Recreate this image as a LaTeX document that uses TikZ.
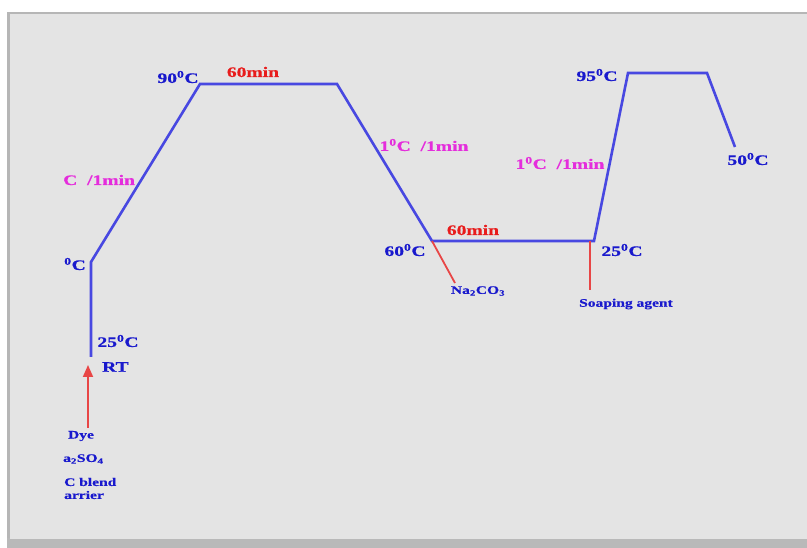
\documentclass[tikz,border=0pt]{standalone}
\usepackage{fontspec}
\newfontfamily\lblfont[FakeStretch=1.35, BoldFeatures={FakeBold=0.6}]{Liberation Serif}
\usetikzlibrary{arrows.meta}
\definecolor{panel}{RGB}{228,228,228}
\definecolor{paneledge}{RGB}{150,150,150}
\definecolor{curve}{RGB}{72,72,225}
\definecolor{tblue}{RGB}{25,25,205}
\definecolor{tmag}{RGB}{228,45,220}
\definecolor{tred}{RGB}{232,28,28}
\definecolor{feed}{RGB}{232,70,70}
\tikzset{
  profile/.style={draw=curve, line width=2.6pt, line join=miter},
  feedline/.style={draw=feed, line width=1.8pt},
  lbl/.style={inner sep=0pt, font=\lblfont\bfseries\fontsize{14.5}{16}\selectfont},
  temp/.style={lbl, text=tblue},
  rate/.style={lbl, text=tmag},
  hold/.style={lbl, text=tred},
  chem/.style={inner sep=0pt, text=tblue, font=\lblfont\bfseries\fontsize{11.5}{13}\selectfont},
}
\newcommand{\dg}{\textsuperscript{0}}
\begin{document}
\begin{tikzpicture}[x=1pt, y=-1pt]
  \useasboundingbox (0,0) rectangle (807,548);
  % panel with its frame and shadow
  \fill[white] (0,0) rectangle (807,548);
  \fill[paneledge!70] (7,12) rectangle (807,548);
  \fill[gray!55] (7,538) rectangle (807,548);
  \fill[panel] (10,14) rectangle (807,539);

  % corner points of the temperature profile
  \coordinate (rt)   at (91,357);
  \coordinate (p1)   at (91,262);
  \coordinate (p2)   at (200,84);
  \coordinate (p3)   at (337,84);
  \coordinate (p4)   at (432,241);
  \coordinate (p5)   at (594,241);
  \coordinate (p6)   at (628,73);
  \coordinate (p7)   at (707,73);
  \coordinate (p8)   at (735,147);

  \draw[profile] (rt) -- (p1) -- (p2) -- (p3) -- (p4) -- (p5) -- (p6) -- (p7) -- (p8);

  % additions
  \coordinate (dyebase) at (88,428);
  \coordinate (dyetip)  at (88,365);
  \draw[feedline, -{Triangle[length=12pt, width=10pt]}] (dyebase) -- (dyetip);
  \coordinate (sodaend) at (455,283);
  \draw[feedline] (p4) -- (sodaend);
  \coordinate (soaptop) at (590,241);
  \coordinate (soapend) at (590,290);
  \draw[feedline] (soaptop) -- (soapend);

  % temperatures
  \node[temp] (t90) at (178,77) {90\dg C};
  \node[temp] (t0)  at (75,264) {\dg C};
  \node[temp] (t25a) at (118,341) {25\dg C};
  \node[temp, anchor=west] (trt) at (102,367) {RT};
  \node[temp] (t60) at (405,250) {60\dg C};
  \node[temp] (t95) at (597,75) {95\dg C};
  \node[temp] (t25b) at (622,250) {25\dg C};
  \node[temp] (t50) at (748,159) {50\dg C};

  % rates and holding times
  \node[rate, anchor=west] (r1) at (63,180) {C\ \ /1min};
  \node[rate] (r2) at (424,145) {1\dg C\ \ /1min};
  \node[rate] (r3) at (560,163) {1\dg C\ \ /1min};
  \node[hold] (h1) at (253,72) {60min};
  \node[hold] (h2) at (473,230) {60min};

  % chemicals
  \node[chem] (dye) at (81,436) {Dye};
  \node[chem, anchor=west] (salt) at (63,459) {a\textsubscript{2}SO\textsubscript{4}};
  \node[chem, anchor=west] (blend) at (64,482) {C blend};
  \node[chem, anchor=west] (carrier) at (64,495) {arrier};
  \node[chem] (soda) at (478,291) {Na\textsubscript{2}CO\textsubscript{3}};
  \node[chem] (soap) at (626,304) {Soaping agent};
\end{tikzpicture}
\end{document}
